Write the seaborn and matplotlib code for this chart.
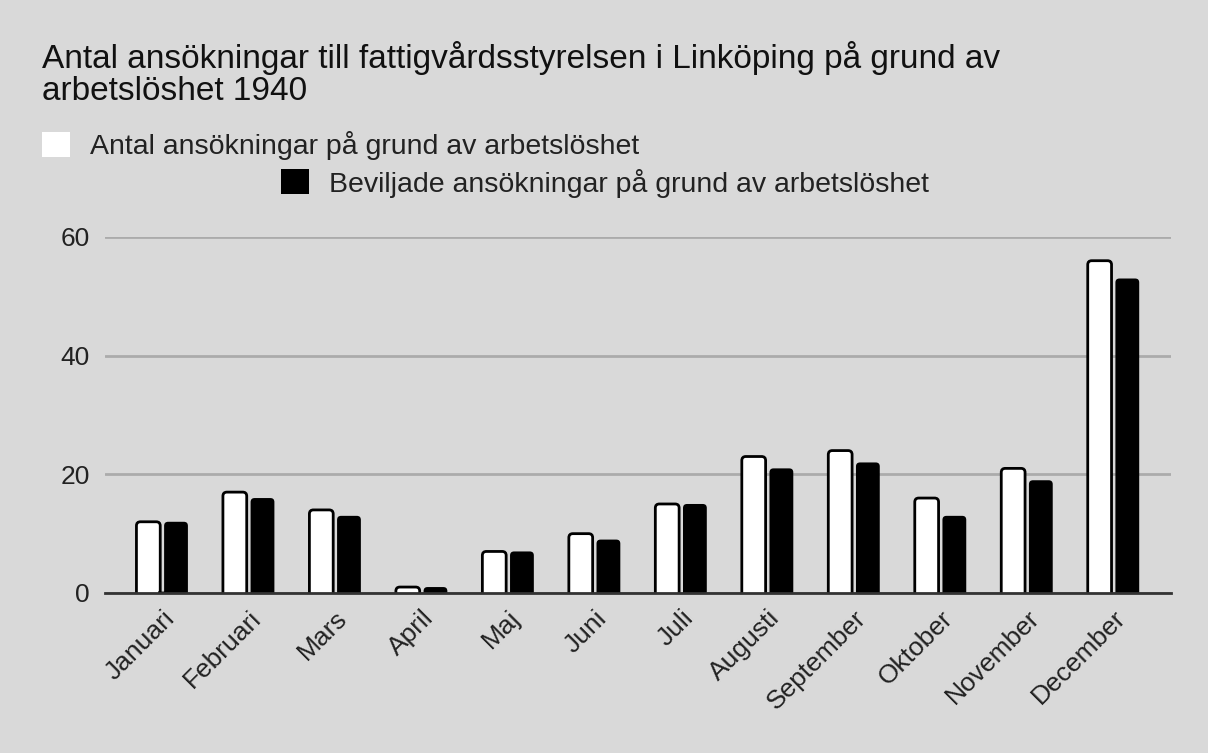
import pandas as pd
import matplotlib.pyplot as plt
import matplotlib.transforms as mtransforms
from matplotlib.patches import FancyBboxPatch, Patch
import seaborn as sns

months = ['Januari', 'Februari', 'Mars', 'April', 'Maj', 'Juni', 'Juli',
          'Augusti', 'September', 'Oktober', 'November', 'December']
applied = [12, 17, 14, 1, 7, 10, 15, 23, 24, 16, 21, 56]
granted = [12, 16, 13, 1, 7, 9, 15, 21, 22, 13, 19, 53]

label_applied = 'Antal ansökningar på grund av arbetslöshet'
label_granted = 'Beviljade ansökningar på grund av arbetslöshet'

df = pd.DataFrame({
    'month': months * 2,
    'count': applied + granted,
    'series': [label_applied] * len(months) + [label_granted] * len(months),
})

sns.set_style('white')
plt.rcParams['font.family'] = ['Liberation Sans', 'DejaVu Sans']
bg = '#d9d9d9'

fig = plt.figure(figsize=(12.08, 7.53), dpi=100, facecolor=bg)
ax = fig.add_axes([0.087, 0.2125, 0.882, 0.4728])
ax.set_facecolor(bg)

sns.barplot(data=df, x='month', y='count', hue='series',
            palette={label_applied: 'white', label_granted: 'black'},
            width=0.64, gap=0.14, edgecolor='black', linewidth=2,
            ax=ax, legend=True)

# grab legend entries from seaborn, then place them by hand
leg = ax.get_legend()
labels = [t.get_text() for t in leg.get_texts()]
colors = [h.get_facecolor() for h in leg.legend_handles]
leg.remove()

ax.set_ylim(0, 60)
ax.set_yticks([0, 20, 40, 60])
ax.set_xlim(-0.66, len(months) - 0.34)
ax.grid(axis='y', color='#ababab', linewidth=2)
ax.set_axisbelow(True)
for s in ['top', 'right', 'left']:
    ax.spines[s].set_visible(False)
ax.spines['bottom'].set_color('#333333')
ax.spines['bottom'].set_linewidth(2)
ax.spines['bottom'].set_zorder(5)
ax.set_xlabel('')
ax.set_ylabel('')
ax.tick_params(axis='both', length=0, labelsize=19, labelcolor='#222222')
ax.tick_params(axis='y', pad=11)

# rounded bar tops, like the original chart
px_x = ax.transData.transform((1, 0))[0] - ax.transData.transform((0, 0))[0]
px_y = ax.transData.transform((0, 1))[1] - ax.transData.transform((0, 0))[1]
for p in list(ax.patches):
    x, y, w, h = p.get_x(), p.get_y(), p.get_width(), p.get_height()
    fc = p.get_facecolor()
    is_white = fc[0] > 0.5
    fb = FancyBboxPatch((x, y - 6 / px_y), w, h + 6 / px_y,
                        boxstyle=f'round,pad=0,rounding_size={4 / px_x}',
                        mutation_aspect=px_x / px_y,
                        fc=fc, ec='black', lw=2 if is_white else 0)
    p.remove()
    ax.add_patch(fb)

offset = mtransforms.ScaledTranslation(0 / 100, -8 / 100, fig.dpi_scale_trans)
for lab in ax.get_xticklabels():
    lab.set_rotation(45)
    lab.set_ha('right')
    lab.set_rotation_mode('anchor')
    lab.set_transform(lab.get_transform() + offset)

for c, l, xy in [(colors[0], labels[0], (0.0348, 0.8254)),
                 (colors[1], labels[1], (0.2326, 0.776))]:
    fig.legend([Patch(facecolor=c, linewidth=0)], [l], loc='upper left',
               bbox_to_anchor=xy, frameon=False,
               fontsize=20.5, handlelength=0.98, handleheight=0.98,
               handletextpad=0.72, borderpad=0, borderaxespad=0,
               labelcolor='#222222')

fig.text(0.0348, 0.945, 'Antal ansökningar till fattigvårdsstyrelsen i Linköping på grund av\narbetslöshet 1940',
         fontsize=24, va='top', ha='left', color='#111111', linespacing=1.04)

fig.savefig('out.png', dpi=100, facecolor=bg)
